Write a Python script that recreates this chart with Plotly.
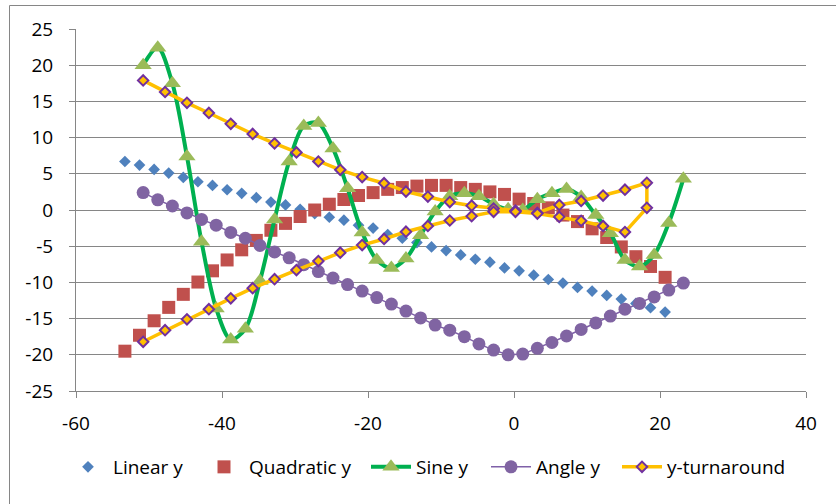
import plotly.graph_objects as go

# ---- data ----
x_lq = [-53.3, -51.3, -49.3, -47.3, -45.3, -43.3, -41.3, -39.3, -37.3, -35.3,
        -33.3, -31.3, -29.3, -27.3, -25.3, -23.3, -21.3, -19.3, -17.3, -15.3,
        -13.3, -11.3, -9.3, -7.3, -5.3, -3.3, -1.3, 0.7, 2.7, 4.7,
        6.7, 8.7, 10.7, 12.7, 14.7, 16.7, 18.7, 20.7]
linear_y = [6.7, 6.2, 5.6, 5.1, 4.5, 3.9, 3.4, 2.8, 2.3, 1.7,
            1.1, 0.7, 0.1, -0.5, -1.0, -1.4, -2.1, -2.5, -3.4, -3.9,
            -4.5, -5.1, -5.6, -6.2, -6.8, -7.2, -8.0, -8.4, -9.0, -9.6,
            -10.1, -10.7, -11.2, -11.8, -12.3, -12.9, -13.5, -14.1]
quad_y = [-19.5, -17.3, -15.3, -13.45, -11.65, -9.95, -8.4, -6.9, -5.5, -4.2,
          -2.8, -1.85, -0.9, 0.0, 0.8, 1.45, 2.0, 2.4, 2.85, 3.1,
          3.3, 3.4, 3.4, 3.1, 2.85, 2.5, 2.15, 1.5, 0.9, 0.3,
          -0.7, -1.6, -2.6, -3.8, -5.1, -6.45, -7.8, -9.3]

x_sa = [-50.8, -48.8, -46.8, -44.8, -42.8, -40.8, -38.8, -36.8, -34.8, -32.8,
        -30.8, -28.8, -26.8, -24.8, -22.8, -20.8, -18.8, -16.8, -14.8, -12.8,
        -10.8, -8.8, -6.8, -4.8, -2.8, -0.8, 1.2, 3.2, 5.2, 7.2,
        9.2, 11.2, 13.2, 15.2, 17.2, 19.2, 21.2, 23.2]
sine_y = [20.0, 22.4, 17.5, 7.4, -4.4, -13.6, -17.9, -16.4, -9.8, -1.3,
          6.7, 11.6, 12.0, 8.5, 3.0, -3.1, -6.9, -8.0, -6.7, -3.5,
          -0.2, 1.9, 2.3, 1.9, 0.8, 0.1, 0.0, 1.5, 2.3, 2.9,
          1.8, -0.7, -3.2, -6.9, -7.8, -6.2, -1.8, 4.3]
angle_y = [2.4, 1.4, 0.55, -0.4, -1.3, -2.1, -3.1, -3.9, -4.9, -5.8,
           -6.6, -7.55, -8.5, -9.4, -10.3, -11.2, -12.1, -13.0, -13.96, -14.9,
           -15.9, -16.6, -17.5, -18.5, -19.35, -20.0, -19.9, -19.1, -18.3, -17.4,
           -16.5, -15.6, -14.65, -13.7, -12.9, -12.0, -11.06, -10.1]

x_turn = [-50.8, -47.8, -44.8, -41.8, -38.8, -35.8, -32.8, -29.8, -26.8, -23.8,
          -20.8, -17.8, -14.8, -11.8, -8.8, -5.8, -2.8, 0.2, 3.2, 6.2,
          9.2, 12.2, 15.2, 18.2,
          18.2, 15.2, 12.2, 9.2, 6.2, 3.2, 0.2, -2.8, -5.8, -8.8,
          -11.8, -14.8, -17.8, -20.8, -23.8, -26.8, -29.8, -32.8, -35.8, -38.8,
          -41.8, -44.8, -47.8, -50.8]
turn_y = [17.9, 16.3, 14.8, 13.4, 11.9, 10.5, 9.2, 7.95, 6.7, 5.55,
          4.55, 3.7, 2.55, 1.85, 1.1, 0.6, 0.2, -0.1, -0.4, 0.7,
          1.25, 2.0, 2.8, 3.75,
          0.3, -3.05, -2.2, -1.5, -0.95, -0.5, -0.25, -0.25, -0.85, -1.45,
          -2.2, -3.0, -4.0, -4.85, -5.9, -7.05, -8.3, -9.55, -10.8, -12.2,
          -13.7, -15.1, -16.6, -18.2]

y_ticks = [-25, -20, -15, -10, -5, 0, 5, 10, 15, 20, 25]
y_ticktext = ["-25", "-20", "-15", "-10", "-5", "0", "5", "10", "15", "20", "25"]
x_ticks = [-60, -40, -20, 0, 20, 40]
x_ticktext = ["-60", "-40", "-20", "0", "20", "40"]

FONT = "Open Sans"
GRID = "#868686"
FS = 19

fig = go.Figure()
fig.add_trace(go.Scatter(
    x=x_lq, y=linear_y, name="Linear y", mode="markers",
    marker=dict(symbol="diamond", size=9, color="#4F81BD"), legend="legend"))
fig.add_trace(go.Scatter(
    x=x_lq, y=quad_y, name="Quadratic y", mode="markers",
    marker=dict(symbol="square", size=13, color="#C0504D"), legend="legend2"))
fig.add_trace(go.Scatter(
    x=x_sa, y=sine_y, name="Sine y", mode="lines+markers",
    line=dict(color="#00B050", width=4, shape="spline", smoothing=0.9),
    marker=dict(symbol="triangle-up", size=15, color="#9BBB59"), legend="legend3"))
fig.add_trace(go.Scatter(
    x=x_sa, y=angle_y, name="Angle y", mode="lines+markers",
    line=dict(color="#7F60A8", width=1.5),
    marker=dict(symbol="circle", size=13, color="#8064A2"), legend="legend4"))
fig.add_trace(go.Scatter(
    x=x_turn, y=turn_y, name="y-turnaround", mode="lines+markers",
    line=dict(color="#FFC000", width=3.5),
    marker=dict(symbol="diamond", size=8, color="#FFC000",
                line=dict(color="#7030A0", width=2)), legend="legend5"))

PL, PR, PT, PB = 76, 30, 29, 113
W, H = 836, 504
pw = W - PL - PR
ph = H - PT - PB


def px_x(p):
    return (p - PL) / pw


def px_y(p):
    return (H - PB - p) / ph


leg_common = dict(orientation="h", yanchor="middle", y=px_y(467), xanchor="left",
                  bgcolor="rgba(0,0,0,0)", font=dict(family=FONT, size=FS, color="#000"),
                  borderwidth=0, tracegroupgap=0, itemwidth=40)

fig.update_layout(
    width=W, height=H,
    margin=dict(l=PL, r=PR, t=PT, b=PB),
    paper_bgcolor="white", plot_bgcolor="white",
    font=dict(family=FONT, size=FS, color="#000"),
    showlegend=True,
    legend=dict(leg_common, x=px_x(63)),
    legend2=dict(leg_common, x=px_x(199)),
    legend3=dict(leg_common, x=px_x(366)),
    legend4=dict(leg_common, x=px_x(486)),
    legend5=dict(leg_common, x=px_x(617)),
    xaxis=dict(range=[-60, 40], tickvals=x_ticks, ticktext=x_ticktext,
               showgrid=False, zeroline=False, showline=True, linecolor=GRID, linewidth=1,
               ticks="outside", ticklen=6, tickcolor=GRID, ticklabelstandoff=9,
               tickfont=dict(family=FONT, size=FS, color="#000")),
    yaxis=dict(range=[-25, 25], tickvals=y_ticks, ticktext=y_ticktext,
               showgrid=True, gridcolor=GRID, gridwidth=1.4, zeroline=False,
               showline=True, linecolor=GRID, linewidth=1,
               ticks="outside", ticklen=6, tickcolor=GRID, ticklabelstandoff=12,
               tickfont=dict(family=FONT, size=FS, color="#000")),
    shapes=[dict(type="rect", xref="paper", yref="paper",
                 x0=px_x(9.5), x1=px_x(845), y0=px_y(512), y1=px_y(5.5),
                 line=dict(color=GRID, width=1), fillcolor="rgba(0,0,0,0)", layer="below")],
)

fig.write_html("out.html")
